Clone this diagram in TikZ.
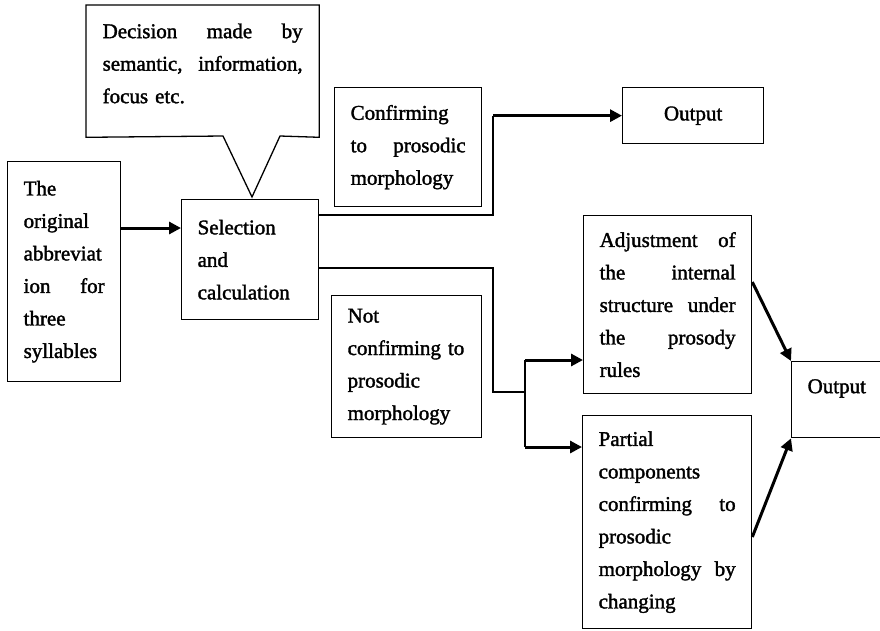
\documentclass[tikz,border=0pt]{standalone}
\usepackage{fontspec}
\setmainfont[FakeBold=1.6]{Liberation Serif}
\usetikzlibrary{arrows.meta}
% a line whose words are spread to the full text width
\newcommand\jl[1]{\leavevmode\hbox to \hsize{#1}}

\begin{document}
\begin{tikzpicture}[x=1pt,y=-1pt,
  box/.style={draw, line width=1.3pt, rectangle, inner xsep=16pt, inner ysep=0pt,
    align=left, anchor=north west, font=\fontsize{21}{32.5}\selectfont},
  wire/.style={line width=1.3pt},
  flow/.style={line width=3pt, -{Triangle[length=12pt,width=12pt]}},
]
\useasboundingbox (0,0) rectangle (880,630);

% boxes
\node[box, draw=none, text width=200pt, minimum height=131pt, text height=15pt, text depth=81pt] (dec) at (86,5)
  {\jl{Decision\hfill made\hfill by}\\ \jl{semantic,\hfill information,}\\ focus etc.};
\draw[wire] (dec.north west) -- (dec.north east) -- (dec.south east)
  -- (280,136) -- (252,197) coordinate (tip) -- (223,136) -- (dec.south west) -- cycle;

\node[box, text width=81pt, minimum height=220pt] (orig) at (7,161)
  {The\\ original\\ abbreviat\\ \jl{ion\hfill for}\\ three\\ syllables};

\node[box, text width=105pt, minimum height=120pt] (sel) at (181,199)
  {Selection\\ and\\ calculation};

\node[box, text width=115pt, minimum height=119pt] (conf) at (334,87)
  {Confirming\\ \jl{to\hfill prosodic}\\ morphology};

\node[box, text width=109pt, minimum height=56pt, align=center] (out1) at (622,87)
  {Output};

\node[box, text width=118pt, minimum height=142pt] (notc) at (331,295)
  {Not\\ confirming to\\ prosodic\\ morphology};

\node[box, text width=136pt, minimum height=178pt] (adj) at (583,215)
  {\jl{Adjustment\hfill of}\\ \jl{the\hfill internal}\\ \jl{structure\hfill under}\\ \jl{the\hfill prosody}\\ rules};

\node[box, text width=137pt, minimum height=213pt] (part) at (582,415)
  {Partial\\ components\\ \jl{confirming\hfill to}\\ prosodic\\ \jl{morphology\hfill by}\\ changing};

\node[box, text width=108pt, minimum height=76pt, text height=15pt, text depth=28pt] (out2) at (791,361)
  {Output};

% connectors
\draw[flow] (orig.east |- 0,228) -- (sel.west |- 0,228);

\coordinate (up) at (493,215);
\draw[wire] (sel.east |- up) -- (up) -- (up |- out1.west);
\draw[flow] (up |- out1.west) -- (out1.west);

\coordinate (down) at (493,268);
\coordinate (fork) at (525,392);
\draw[wire] (sel.east |- down) -- (down) -- (down |- fork) -- (fork);
\draw[wire] (fork |- 0,360) -- (fork |- 0,447);
\draw[flow] (fork |- 0,360) -- (adj.west |- 0,360);
\draw[flow] (fork |- 0,447) -- (part.west |- 0,447);

\draw[flow] (adj.east |- 0,282) -- (out2.north west);
\draw[flow] (part.east |- 0,537) -- (out2.south west);
\end{tikzpicture}
\end{document}
